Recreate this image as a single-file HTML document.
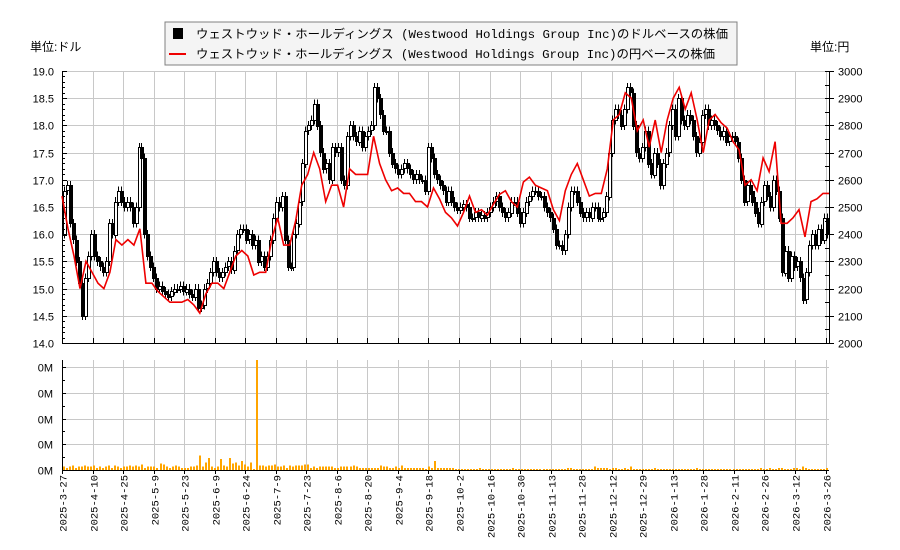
<!DOCTYPE html>
<html><head><meta charset="utf-8"><style>
html,body{margin:0;padding:0;background:#fff;}
svg{display:block;font-family:"Liberation Sans","Noto Sans CJK JP",sans-serif;}
</style></head><body>
<svg id="chart" width="900" height="550" viewBox="0 0 900 550" xmlns="http://www.w3.org/2000/svg" shape-rendering="crispEdges">
<g id="grid"></g>
<g id="vgrid"></g>
<g id="candles"></g>
<g id="vols"></g>
<g id="axes"></g>
<text x="30" y="51" font-size="12">単位:ドル</text>
<text x="810" y="51" font-size="12">単位:円</text>
<g>
<rect x="165" y="22" width="572" height="43" fill="#f4f4f4" stroke="#808080"/>
<rect x="173" y="28" width="10" height="11" fill="#000"/>
<line x1="169" y1="54" x2="186" y2="54" stroke="#e00" stroke-width="2"/>
<text x="196" y="38" font-size="12" textLength="532" lengthAdjust="spacingAndGlyphs" font-family="Liberation Mono, Noto Sans CJK JP, monospace">ウェストウッド・ホールディングス (Westwood Holdings Group Inc)のドルベースの株価</text>
<text x="196" y="58" font-size="12" textLength="519" lengthAdjust="spacingAndGlyphs" font-family="Liberation Mono, Noto Sans CJK JP, monospace">ウェストウッド・ホールディングス (Westwood Holdings Group Inc)の円ベースの株価</text>
</g>
</svg>
<script>
const closes=[16.8,16.9,16.2,15.9,15.5,15.1,14.5,15.2,15.6,16.0,15.6,15.5,15.4,15.3,15.5,16.2,16.0,16.6,16.8,16.6,16.5,16.6,16.5,16.2,16.5,17.6,17.4,16.0,15.6,15.4,15.2,15.0,15.05,14.95,14.9,14.85,14.95,15.0,15.0,15.05,14.95,15.0,14.9,14.85,15.0,14.65,14.7,15.0,15.1,15.3,15.5,15.3,15.2,15.3,15.4,15.5,15.35,15.7,16.0,16.1,16.1,15.9,16.0,15.8,15.9,15.5,15.6,15.4,15.6,15.9,16.3,16.6,16.5,16.7,15.9,15.4,15.4,16.0,16.2,16.6,17.3,17.9,18.0,18.1,18.4,18.0,17.5,17.2,17.3,17.0,17.6,17.5,17.6,17.0,16.9,17.8,18.0,17.8,17.7,17.9,17.6,17.8,17.9,18.0,18.7,18.5,18.2,17.9,17.9,17.5,17.3,17.2,17.1,17.2,17.3,17.2,17.1,17.0,17.1,17.0,17.0,16.8,17.6,17.4,17.1,17.0,16.9,16.8,16.6,16.8,16.6,
16.5,16.45,16.5,16.55,16.5,16.3,16.3,16.4,16.3,16.35,16.3,16.4,16.5,16.6,16.7,16.5,16.4,16.3,16.4,16.6,16.6,16.4,16.2,16.4,16.6,16.7,16.8,16.8,16.7,16.7,16.5,16.4,16.3,16.1,15.8,15.8,15.7,16.0,16.5,16.8,16.8,16.6,16.4,16.3,16.4,16.3,16.5,16.5,16.3,16.3,16.4,16.7,17.5,18.1,18.3,18.2,18.0,18.3,18.7,18.6,18.0,17.5,17.4,17.6,17.9,17.3,17.1,17.5,17.3,16.9,17.3,17.5,18.0,18.3,17.8,18.5,18.1,18.0,18.2,18.1,17.8,17.5,17.7,18.2,18.3,18.0,18.1,18.0,17.9,17.8,17.9,17.7,17.8,17.8,17.7,17.4,17.0,16.6,16.9,16.8,16.6,16.4,16.2,16.6,16.9,16.7,16.5,17.0,16.8,16.3,15.3,15.7,15.2,15.6,15.4,15.5,15.2,14.8,15.3,15.8,16.0,15.8,16.1,15.9,16.3,16.0];
const yen=[2540,2420,2320,2200,2300,2260,2220,2200,2260,2380,2360,2380,2360,2420,2220,2220,2190,2170,2150,2150,2150,2160,2140,2110,2180,2220,2220,2200,2260,2320,2340,2320,2250,2260,2260,2380,2460,2360,2360,2450,2580,2620,2700,2640,2520,2580,2580,2500,2640,2620,2620,2620,2760,2660,2600,2560,2570,2550,2550,2520,2520,2500,2570,2530,2480,2460,2430,2480,2540,2480,2490,2470,2510,2546,2560,2520,2500,2592,2610,2580,2570,2560,2490,2450,2560,2620,2660,2600,2540,2550,2550,2640,2820,2840,2920,2900,2780,2820,2720,2820,2700,2820,2900,2940,2860,2920,2820,2700,2820,2840,2810,2790,2740,2710,2580,2600,2560,2680,2630,2740,2440,2440,2460,2490,2390,2520,2530,2550,2550];
const vols=[0.03,0.02,0.03,0.04,0.02,0.03,0.03,0.04,0.03,0.03,0.04,0.02,0.03,0.02,0.03,0.04,0.02,0.04,0.03,0.02,0.03,0.03,0.04,0.03,0.04,0.03,0.05,0.02,0.03,0.03,0.03,0.02,0.06,0.05,0.03,0.02,0.03,0.04,0.03,0.02,0.02,0.02,0.03,0.03,0.04,0.13,0.03,0.07,0.11,0.03,0.02,0.03,0.1,0.04,0.03,0.11,0.06,0.07,0.04,0.08,0.05,0.03,0.07,0.01,1.0,0.04,0.04,0.03,0.04,0.04,0.05,0.03,0.03,0.04,0.02,0.04,0.03,0.04,0.04,0.04,0.05,0.05,0.02,0.03,0.02,0.03,0.03,0.03,0.03,0.03,0.02,0.02,0.03,0.03,0.03,0.03,0.04,0.03,0.02,0.02,0.02,0.02,0.02,0.02,0.02,0.04,0.03,0.03,0.02,0.02,0.03,0.02,0.04,0.02,0.02,0.02,0.02,0.02,0.02,0.02,0.01,0.03,0.02,0.08,0.02,0.02,0.02,0.02,0.02,0.02,0.01,
0.01,0.01,0.01,0.01,0.01,0.01,0.01,0.02,0.01,0.01,0.01,0.01,0.01,0.01,0.01,0.01,0.01,0.01,0.02,0.01,0.01,0.01,0.01,0.01,0.01,0.01,0.01,0.01,0.01,0.01,0.01,0.01,0.01,0.01,0.01,0.01,0.02,0.02,0.01,0.01,0.01,0.01,0.01,0.01,0.01,0.03,0.02,0.02,0.02,0.02,0.01,0.02,0.02,0.01,0.01,0.02,0.01,0.03,0.01,0.01,0.01,0.01,0.01,0.01,0.01,0.02,0.01,0.01,0.01,0.01,0.01,0.01,0.01,0.01,0.01,0.01,0.01,0.01,0.01,0.02,0.01,0.01,0.01,0.01,0.01,0.01,0.01,0.01,0.01,0.01,0.01,0.01,0.01,0.01,0.01,0.01,0.01,0.01,0.01,0.01,0.02,0.01,0.01,0.02,0.01,0.01,0.02,0.02,0.01,0.01,0.01,0.02,0.02,0.01,0.03,0.02,0.01,0.01,0.01,0.01,0.01,0.01,0.02];
const usdTicks=["14.0","14.5","15.0","15.5","16.0","16.5","17.0","17.5","18.0","18.5","19.0"];
const yenTicks=["2000","2100","2200","2300","2400","2500","2600","2700","2800","2900","3000"];
const dateLabels=["2025-3-27","2025-4-10","2025-4-25","2025-5-9","2025-5-23","2025-6-9","2025-6-24","2025-7-9","2025-7-23","2025-8-6","2025-8-20","2025-9-4","2025-9-18","2025-10-2","2025-10-16","2025-10-30","2025-11-13","2025-11-28","2025-12-12","2025-12-29","2026-1-13","2026-1-28","2026-2-11","2026-2-26","2026-3-12","2026-3-26"];
const volLabels=["0M","0M","0M","0M","0M"];

const NS="http://www.w3.org/2000/svg";
const L=62,R=829,T=71,B=343,VT=360,VB=470;
const N=closes.length;
const xC=i=>L+2+i*(R-L-4)/(N-1);
const xY=i=>L+i*(R-L)/(yen.length-1);
const xV=i=>L+2+i*(R-L-4)/(vols.length-1);
const xT=i=>L+i*(825.5-L)/(dateLabels.length-1);
const yU=v=>B-(v-14)*(B-T)/5;
const yJ=v=>B-(v-2000)*(B-T)/1000;
const yVol=v=>VB-v*(VB-VT);
function mk(tag,attrs,parent){const e=document.createElementNS(NS,tag);for(const k in attrs)e.setAttribute(k,attrs[k]);parent.appendChild(e);return e;}
const grid=document.getElementById('grid'),vgrid=document.getElementById('vgrid'),axes=document.getElementById('axes');
usdTicks.forEach((t,i)=>{const y=Math.round(yU(+t))+0.5;
 const g=mk('line',{x1:L,x2:R,y1:y,y2:y,stroke:'#c8c8c8'},grid);
 
 
 const tx=mk('text',{x:54,y:y+4,'font-size':11,'text-anchor':'end'},axes);tx.textContent=t;
 
 
});
yenTicks.forEach((t,i)=>{const y=Math.round(yJ(+t))+0.5;
 const tx=mk('text',{x:838,y:y+4,'font-size':11},axes);tx.textContent=t;
 
 
 mk('line',{x1:R,x2:R+5,y1:y,y2:y,stroke:'#000'},axes);
});
for(let v=14;v<=19.001;v+=0.1){const y=Math.round(yU(v))+0.5;mk('line',{x1:L,x2:L+(Math.abs(v*2-Math.round(v*2))<0.01?5:3),y1:y,y2:y,stroke:'#000'},axes);}
for(let v=2000;v<=3000;v+=50){const y=Math.round(yJ(v))+0.5;mk('line',{x1:R-4,x2:R,y1:y,y2:y,stroke:'#000'},axes);}
dateLabels.forEach((d,i)=>{const x=Math.round(xT(i))+0.5;
 mk('line',{x1:x,x2:x,y1:T,y2:B,stroke:'#c8c8c8'},grid);
 mk('line',{x1:x,x2:x,y1:VT,y2:VB,stroke:'#c8c8c8'},vgrid);
 mk('line',{x1:x,x2:x,y1:B-5,y2:B,stroke:'#000'},axes);
 mk('line',{x1:x,x2:x,y1:VB,y2:VB+4,stroke:'#000'},axes);
 const tx=mk('text',{x:0,y:0,'font-size':10.5,'text-anchor':'end','font-family':'Liberation Mono, monospace',transform:`translate(${x+4},475) rotate(-90)`},axes);tx.textContent=d;
 
 
});
volLabels.forEach((t,i)=>{const y=Math.round(VB-i*(VB-367)/4)+0.5;
 mk('line',{x1:L,x2:R,y1:y,y2:y,stroke:'#c8c8c8'},vgrid);
 mk('line',{x1:L,x2:L+4,y1:y,y2:y,stroke:'#000'},axes);
 if(i<4) mk('line',{x1:L,x2:L+3,y1:y-13,y2:y-13,stroke:'#000'},axes);
 const tx=mk('text',{x:53,y:y+4,'font-size':11,'text-anchor':'end'},axes);tx.textContent=t;
 
 
});
mk('line',{x1:L+0.5,x2:L+0.5,y1:T,y2:B+1,stroke:'#000'},axes);
mk('line',{x1:R+0.5,x2:R+0.5,y1:T,y2:B+1,stroke:'#000'},axes);
mk('line',{x1:L,x2:R+1,y1:B+0.5,y2:B+0.5,stroke:'#000'},axes);
mk('line',{x1:L+0.5,x2:L+0.5,y1:VT,y2:VB+1,stroke:'#000'},axes);
mk('line',{x1:L,x2:R,y1:VB+0.5,y2:VB+0.5,stroke:'#000'},axes);
const cg=document.getElementById('candles');
closes.forEach((c,i)=>{const o=i?closes[i-1]:16.0;const x=Math.round(xC(i));
 const hi=Math.max(o,c)+0.08,lo=Math.min(o,c)-0.08;
 const w=mk('line',{x1:x+0.5,x2:x+0.5,y1:yU(hi),y2:yU(lo),stroke:'#000'},cg);
 
 
 const top=yU(Math.max(o,c)),bot=yU(Math.min(o,c));
 const r=mk('rect',{x:x-1+0.5,y:Math.round(top)+0.5,width:3,height:Math.max(1,Math.round(bot-top)),fill:c<o?'#000':'#fff',stroke:'#000'},cg);
 
 
});
const pl=mk('polyline',{points:yen.map((v,i)=>xY(i).toFixed(1)+','+yJ(v).toFixed(1)).join(' '),fill:'none',stroke:'#e00','stroke-width':1.6,'shape-rendering':'auto'},document.getElementById('chart'));


const vg=document.getElementById('vols');
vols.forEach((v,i)=>{const x=Math.round(xV(i));const y=yVol(v);
 const b=mk('rect',{x:x-1,y:y,width:2,height:VB-y,fill:'#ffa500'},vg);
 
 
});
</script>
</body></html>
